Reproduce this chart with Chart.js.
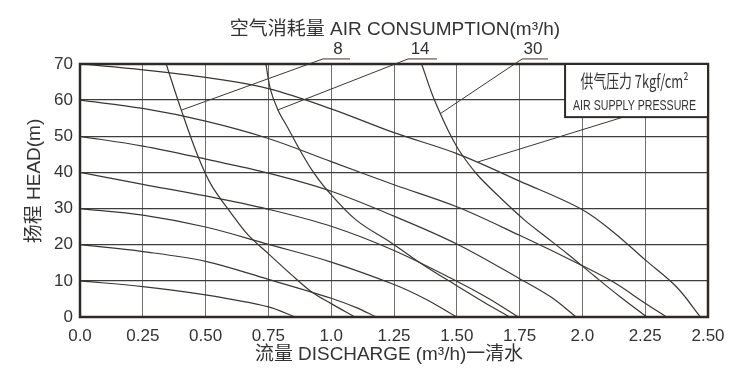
<!DOCTYPE html>
<html>
<head>
<meta charset="utf-8">
<script src="https://cdn.jsdelivr.net/npm/chart.js@4.4.1/dist/chart.umd.min.js"></script>
<style>
    html, body { margin: 0; padding: 0; background: #fff; }
    canvas { display: block; }
</style>
</head>
<body>
<canvas id="pumpChart" width="750" height="386"></canvas>
<script>
// x axis: discharge (m3/h), y axis: head (m)
const X_TICK_LABELS = ["0.0", "0.25", "0.50", "0.75", "1.0", "1.25", "1.50", "1.75", "2.0", "2.25", "2.50"];

// head curves at each air supply pressure, [discharge, head]
const head70 = [[0, 70], [0.25, 68.4], [0.5, 66.3], [0.75, 63.2], [1.0, 57.6], [1.25, 51.0], [1.5, 45.2], [1.75, 37.6], [2.0, 29.7], [2.125, 23.4], [2.25, 15.8], [2.375, 8.3], [2.47, 0]];
const head60 = [[0, 60], [0.25, 57.7], [0.5, 54.2], [0.75, 49.4], [1.0, 43.0], [1.25, 36.6], [1.5, 30.5], [1.75, 22.6], [2.0, 14.2], [2.125, 9.6], [2.25, 3.8], [2.335, 0]];
const head50 = [[0, 50], [0.25, 47.3], [0.5, 43.7], [0.75, 39.8], [1.0, 34.8], [1.25, 27.9], [1.5, 20.2], [1.75, 10.6], [1.875, 5.5], [1.975, 0]];
const head40 = [[0, 40], [0.25, 36.7], [0.5, 33.5], [0.75, 29.8], [1.0, 25.1], [1.25, 18.4], [1.5, 9.9], [1.625, 5.2], [1.745, 0]];
const head30 = [[0, 30], [0.25, 28.2], [0.5, 24.9], [0.75, 20.1], [1.0, 15.2], [1.25, 9.0], [1.375, 5.0], [1.5, 0]];
const head20 = [[0, 20], [0.25, 18.1], [0.5, 15.4], [0.75, 10.4], [1.0, 5.2], [1.1, 2.6], [1.18, 0]];
const head10 = [[0, 10], [0.25, 8.4], [0.5, 6.1], [0.75, 2.8], [0.856, 0]];

// air consumption curves (m3/h), [discharge, head]
const air8 = [[0.343, 70], [0.403, 57.3], [0.47, 44.4], [0.523, 36.5], [0.602, 28.7], [0.669, 22.7], [0.755, 17.2], [0.84, 11.8], [0.921, 7.0], [1.0, 3.7], [1.095, 0]];
const air14 = [[0.74, 70], [0.758, 63], [0.788, 57.3], [0.83, 52], [0.872, 46.6], [0.925, 40.5], [0.985, 35], [1.10, 26.8], [1.24, 20.5], [1.367, 14.4], [1.506, 8.4], [1.61, 4], [1.71, 0]];
const air30 = [[1.36, 70], [1.40, 62], [1.433, 56.5], [1.47, 51], [1.51, 46], [1.58, 39.5], [1.67, 33.2], [1.77, 26.8], [1.85, 22.4], [1.94, 17.5], [2.05, 11.2], [2.15, 5.6], [2.256, 0]];

const AIR_LABELS = ["8", "14", "30"];
const AIR_LABEL_X = [1.027, 1.354, 1.803];
const AIR_BAR_FROM = [0.967, 1.306, 1.760];
const AIR_BAR_TO = [1.075, 1.421, 1.863];
const AIR_LEADER_TIP = [[0.406, 57.3], [0.788, 57.3], [1.433, 56.2]];

const LINE_COLOR = "#3b3631";
const TEXT_COLOR = "#333";
const FONT = '"Liberation Sans", Arial, "Noto Sans CJK SC", sans-serif';

const curves = [head70, head60, head50, head40, head30, head20, head10, air8, air14, air30];

const overlay = {
    id: "overlay",
    afterDatasetsDraw(chart) {
        const { ctx, chartArea: a, scales: { x, y } } = chart;
        const px = v => x.getPixelForValue(v);
        const py = v => y.getPixelForValue(v);
        ctx.save();

        // heavy frame round the plot
        ctx.strokeStyle = "#2e2a26";
        ctx.lineWidth = 2.5;
        ctx.strokeRect(a.left, a.top, a.right - a.left, a.bottom - a.top);

        // leaders and labels for air consumption
        ctx.strokeStyle = LINE_COLOR;
        ctx.lineWidth = 1;
        ctx.fillStyle = TEXT_COLOR;
        ctx.textAlign = "center";
        ctx.textBaseline = "middle";
        ctx.font = "17px " + FONT;
        AIR_LABELS.forEach((txt, i) => {
            ctx.beginPath();
            ctx.moveTo(px(AIR_BAR_TO[i]), py(71.4));
            ctx.lineTo(px(AIR_BAR_FROM[i]), py(71.4));
            ctx.lineTo(px(AIR_LEADER_TIP[i][0]), py(AIR_LEADER_TIP[i][1]));
            ctx.stroke();
            ctx.fillText(txt, px(AIR_LABEL_X[i]), py(74.2));
        });

        // air supply pressure box
        const bx = px(1.931), by = py(70), bw = px(2.5) - bx, bh = py(55.3) - by;
        ctx.beginPath();
        ctx.moveTo(px(2.162), py(55.3));
        ctx.lineTo(px(1.584), py(42.9));
        ctx.stroke();
        ctx.fillStyle = "#fff";
        ctx.fillRect(bx, by, bw, bh);
        ctx.strokeStyle = "#2e2a26";
        ctx.lineWidth = 2;
        ctx.strokeRect(bx, by, bw, bh);
        ctx.fillStyle = TEXT_COLOR;
        ctx.font = '18px "Noto Sans CJK SC", ' + FONT;
        ctx.fillText("供气压力 7kgf/cm²", bx + bw / 2 - 2, by + 17, 108);
        ctx.font = "15px " + FONT;
        ctx.fillText("AIR SUPPLY PRESSURE", bx + bw / 2 - 2, by + 42, 123);

        // titles
        ctx.font = '19px ' + FONT;
        ctx.fillText("空气消耗量 AIR CONSUMPTION(m³/h)", 395, 30, 334);
        ctx.fillText("流量 DISCHARGE (m³/h)一清水", 389, 355, 268);
        ctx.translate(35, 181);
        ctx.rotate(-Math.PI / 2);
        ctx.fillText("扬程 HEAD(m)", 0, 0, 132);

        ctx.restore();
    }
};

new Chart(document.getElementById("pumpChart"), {
    type: "scatter",
    data: {
        datasets: curves.map(c => ({
            data: c.map(p => ({ x: p[0], y: p[1] })),
            showLine: true,
            borderColor: LINE_COLOR,
            borderWidth: 1.2,
            pointRadius: 0,
            tension: 0.35,
            fill: false
        }))
    },
    options: {
        responsive: false,
        animation: false,
        devicePixelRatio: 1,
        layout: { padding: { top: 64, right: 42, left: 0, bottom: 0 } },
        plugins: {
            legend: { display: false },
            tooltip: { enabled: false }
        },
        scales: {
            x: {
                type: "linear",
                min: 0,
                max: 2.5,
                afterFit: s => { s.height = 69; },
                ticks: {
                    stepSize: 0.25,
                    autoSkip: false,
                    maxRotation: 0,
                    padding: 9,
                    color: TEXT_COLOR,
                    font: { size: 17, family: FONT },
                    callback: (v, i) => X_TICK_LABELS[i]
                },
                grid: { color: "#707070", lineWidth: 1, drawTicks: false },
                border: { display: false }
            },
            y: {
                min: 0,
                max: 70,
                afterFit: s => { s.width = 80; },
                ticks: {
                    stepSize: 5,
                    padding: 7,
                    color: TEXT_COLOR,
                    font: { size: 17, family: FONT },
                    callback: v => (v % 10 === 0 ? String(v) : "")
                },
                grid: {
                    drawTicks: false,
                    color: c => (c.tick && c.tick.value % 10 === 0 ? "#3d3d3d" : "#8c8c8c"),
                    lineWidth: c => (c.tick && c.tick.value % 10 === 0 ? 1.3 : 1)
                },
                border: { display: false }
            }
        }
    },
    plugins: [overlay]
});
</script>
</body>
</html>
